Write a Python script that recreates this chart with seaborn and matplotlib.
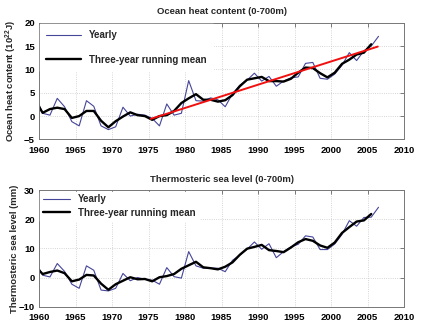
import numpy as np
import pandas as pd
import seaborn as sns
import matplotlib
matplotlib.use("Agg")
import matplotlib.pyplot as plt

# ---- data -------------------------------------------------------------
years = [1959.5 + i for i in range(48)]          # 1959.5 ... 2006.5
mean_years = years[:-1]                          # running mean ends 2005.5

heat_yearly = [4.4, 0.6, 0.2, 3.8, 2.0, -1.2, -2.1, 3.3, 2.1, -2.1,
               -2.9, -2.3, 1.9, 0.0, 0.4, 0.2, -0.5, -2.1, 2.6, 0.2,
               0.6, 7.6, 3.3, 3.2, 3.9, 3.5, 2.0, 4.8, 6.6, 7.7,
               9.2, 7.5, 8.5, 6.4, 7.5, 8.2, 8.4, 11.3, 11.5, 8.1,
               7.9, 9.0, 10.9, 13.6, 11.9, 14.0, 15.0, 17.1]
heat_mean = [3.3, 0.7, 1.5, 1.8, 1.5, -0.4, 0.0, 1.1, 1.1, -1.0,
             -2.4, -1.1, -0.1, 0.8, 0.2, 0.0, -0.8, 0.0, 0.2, 1.1,
             2.8, 3.8, 4.7, 3.5, 3.5, 3.1, 3.4, 4.5, 6.4, 7.8,
             8.1, 8.4, 7.5, 7.5, 7.4, 8.0, 9.3, 10.4, 10.3, 9.2,
             8.3, 9.3, 11.2, 12.1, 13.2, 13.6, 15.4]
trend_years = [1975.3, 2006.4]
trend_vals = [-0.6, 14.9]

sea_yearly = [5.6, 0.8, 0.2, 4.8, 2.1, -2.3, -3.7, 4.0, 2.5, -4.3,
              -4.6, -3.7, 1.4, -1.1, 0.0, -0.6, -0.9, -2.3, 3.4, 0.3,
              -0.2, 8.9, 4.0, 3.2, 3.2, 3.2, 2.0, 5.9, 7.7, 9.7,
              12.2, 9.7, 11.6, 6.8, 8.9, 10.5, 11.4, 14.3, 13.9, 9.6,
              9.6, 11.5, 14.8, 19.5, 17.6, 20.6, 20.7, 24.1]
sea_mean = [3.8, 1.2, 1.9, 2.4, 1.5, -1.3, -0.7, 0.9, 0.7, -2.1,
            -4.2, -2.3, -1.1, 0.1, -0.6, -0.5, -1.3, 0.1, 0.5, 1.2,
            3.0, 4.2, 5.4, 3.5, 3.2, 2.8, 3.7, 5.2, 7.8, 9.9,
            10.5, 11.2, 9.4, 9.1, 8.7, 10.3, 12.1, 13.2, 12.6, 11.0,
            10.2, 12.0, 15.3, 17.3, 19.2, 19.6, 21.8]

x_ticks = [1960, 1965, 1970, 1975, 1980, 1985, 1990, 1995, 2000, 2005, 2010]
heat_ticks = [-5, 0, 5, 10, 15, 20]
sea_ticks = [-10, 0, 10, 20, 30]

titles = ["Ocean heat content (0-700m)", "Thermosteric sea level (0-700m)"]
ylabels = [r"Ocean heat content (10$^{22}$J)", "Thermosteric sea level (mm)"]

# ---- style ------------------------------------------------------------
sns.set_style("white")
plt.rcParams["font.family"] = ["Liberation Sans", "DejaVu Sans"]
plt.rcParams["font.weight"] = "bold"
plt.rcParams["mathtext.fontset"] = "custom"
plt.rcParams["mathtext.rm"] = "Liberation Sans:bold"
plt.rcParams["mathtext.default"] = "rm"

BLUE = "#45459a"
RED = "#f01010"
GRID = "#c8c8c8"

fig = plt.figure(figsize=(4.24, 3.28), dpi=100)
ax_top = fig.add_axes([0.092, 0.575, 0.861, 0.3555])
ax_bot = fig.add_axes([0.092, 0.065, 0.861, 0.3555])

heat_df = pd.DataFrame({"year": years, "value": heat_yearly})
heat_m_df = pd.DataFrame({"year": mean_years, "value": heat_mean})
trend_df = pd.DataFrame({"year": trend_years, "value": trend_vals})
sea_df = pd.DataFrame({"year": years, "value": sea_yearly})
sea_m_df = pd.DataFrame({"year": mean_years, "value": sea_mean})

sns.lineplot(data=heat_df, x="year", y="value", ax=ax_top, color=BLUE,
             lw=0.8, label="Yearly")
sns.lineplot(data=heat_m_df, x="year", y="value", ax=ax_top, color="black",
             lw=1.7, label="Three-year running mean")
sns.lineplot(data=trend_df, x="year", y="value", ax=ax_top, color=RED,
             lw=1.4, legend=False)

sns.lineplot(data=sea_df, x="year", y="value", ax=ax_bot, color=BLUE,
             lw=0.8, label="Yearly")
sns.lineplot(data=sea_m_df, x="year", y="value", ax=ax_bot, color="black",
             lw=1.7, label="Three-year running mean")

for ax, yt, title, ylab in [(ax_top, heat_ticks, titles[0], ylabels[0]),
                            (ax_bot, sea_ticks, titles[1], ylabels[1])]:
    ax.set_xlim(1960, 2010)
    ax.set_ylim(yt[0], yt[-1])
    ax.set_xticks(x_ticks)
    ax.set_yticks(yt)
    ax.grid(True, color=GRID, lw=0.6, ls=":")
    ax.set_axisbelow(True)
    ax.tick_params(direction="in", length=3, width=0.6, colors="#666666",
                   labelcolor="black", labelsize=6.8,
                   top=True, right=True)
    ax.tick_params(axis="x", pad=4.5)
    ax.tick_params(axis="y", pad=3)
    for lab in ax.get_xticklabels() + ax.get_yticklabels():
        lab.set_fontweight("bold")
    for sp in ax.spines.values():
        sp.set_color("#777777")
        sp.set_linewidth(0.7)
    ax.set_title(title, fontsize=6.8, fontweight="bold", pad=6)
    ax.set_xlabel("")
    ax.set_ylabel(ylab, fontsize=6.8, fontweight="bold")
    ax.yaxis.set_label_coords(-0.055, 0.5)

leg1 = ax_top.legend(loc="upper left", fontsize=7, frameon=True,
                     handlelength=3.6, labelspacing=1.5, borderpad=0.6,
                     handletextpad=0.8, borderaxespad=0.15)
leg2 = ax_bot.legend(loc="upper left", fontsize=7, frameon=True,
                     handlelength=2.7, labelspacing=0.35, borderpad=0.3,
                     handletextpad=0.9, borderaxespad=0.15)
for leg in (leg1, leg2):
    leg.get_frame().set_facecolor("white")
    leg.get_frame().set_edgecolor("white")
    leg.get_frame().set_alpha(1.0)
    leg.get_frame().set_boxstyle("square", pad=0)
    for t in leg.get_texts():
        t.set_fontweight("bold")

fig.savefig("out.png", dpi=100)
